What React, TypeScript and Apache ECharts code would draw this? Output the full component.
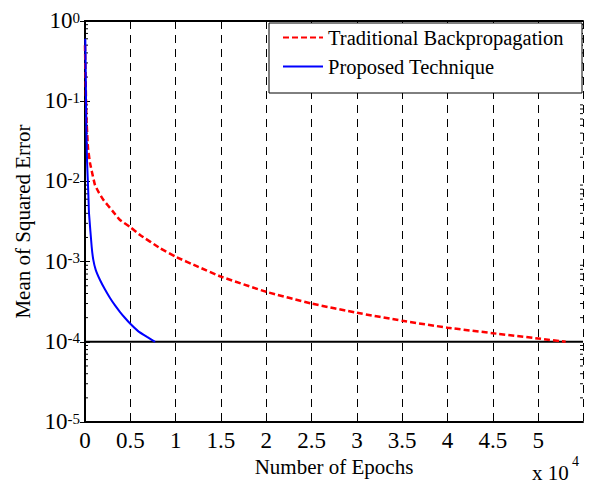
import React, { useEffect, useRef } from 'react';
import * as echarts from 'echarts';

// ---- data ----
const traditionalEpochs = [0, 144, 221, 332, 553, 773, 1105, 1547, 2022, 3094, 3868, 4972, 6078, 8288, 10000, 12500, 15000, 20000, 25000, 30000, 35000, 40000, 45000, 50000, 53040];
const traditionalMSE = [0.5, 0.067, 0.044, 0.026, 0.017, 0.013, 9.0e-3, 7.2e-3, 5.9e-3, 4.2e-3, 3.3e-3, 2.7e-3, 2.15e-3, 1.47e-3, 1.15e-3, 8.6e-4, 6.5e-4, 4.2e-4, 3.0e-4, 2.3e-4, 1.83e-4, 1.5e-4, 1.28e-4, 1.1e-4, 1.0e-4];
const proposedEpochs = [0, 33, 88, 144, 221, 365, 442, 740, 917, 1182, 1657, 2210, 2762, 3315, 3868, 4420, 4972, 5857, 6851, 7735];
const proposedMSE = [0.6, 0.58, 0.184, 0.048, 0.0185, 7.2e-3, 4.0e-3, 1.52e-3, 1.05e-3, 7.9e-4, 5.9e-4, 4.49e-4, 3.52e-4, 2.84e-4, 2.35e-4, 1.98e-4, 1.69e-4, 1.36e-4, 1.15e-4, 1.0e-4];
const goalMSE = 1e-4;
const seriesNames = ['Traditional Backpropagation', 'Proposed Technique'];
const xMin = 0;
const xMax = 54950;
const xInterval = 5000;
const yMin = 1e-5;
const yMax = 1;
const minorMantissas = [2, 3, 4, 5, 6, 7, 8, 9];
const minorDecades = [1e-5, 1e-4, 1e-3, 1e-2, 1e-1];

const FONT = '"Liberation Serif", "Times New Roman", serif';

export default function App() {
  const ref = useRef<HTMLDivElement>(null);
  useEffect(() => {
    if (!ref.current) return;
    const chart = echarts.init(ref.current, null, { renderer: 'svg' });
    const minorTicks: number[][] = [];
    minorDecades.forEach((d) => minorMantissas.forEach((m) => minorTicks.push([0, m * d])));

    const xLabel = (v: number) => (v % xInterval === 0 ? String(v / 10000) : '');
    const yLabel = (v: number) => `{b|10}{s|${Math.round(Math.log10(v))}}`;

    const option: any = {
      animation: false,
      backgroundColor: '#fff',
      grid: { left: 85, right: 9, top: 21, bottom: 64, containLabel: false },
      legend: {
        data: seriesNames,
        orient: 'vertical',
        left: 282,
        top: 27,
        padding: 0,
        itemWidth: 40,
        itemHeight: 14,
        itemGap: 8,
        z: 5,
        itemStyle: { color: 'rgba(0,0,0,0)', borderColor: 'rgba(0,0,0,0)', borderWidth: 0 },
        textStyle: { fontFamily: FONT, fontSize: 20.5, lineHeight: 20, color: '#000' },
      },
      graphic: [
        {
          type: 'rect',
          z: 4,
          shape: { x: 269, y: 23, width: 313, height: 70 },
          style: { fill: '#fff', stroke: '#000', lineWidth: 1 },
        },
        {
          type: 'text',
          x: 532,
          y: 463,
          style: { text: 'x 10', fontFamily: FONT, fontSize: 21, lineHeight: 20, fill: '#000' },
        },
        {
          type: 'text',
          x: 572,
          y: 454,
          style: { text: '4', fontFamily: FONT, fontSize: 14, lineHeight: 14, fill: '#000' },
        },
      ],
      xAxis: [
        {
          type: 'value',
          min: xMin,
          max: xMax,
          interval: xInterval,
          name: 'Number of Epochs',
          nameLocation: 'middle',
          nameGap: 33,
          nameTextStyle: { fontFamily: FONT, fontSize: 21, color: '#000' },
          axisLine: { show: true, lineStyle: { color: '#000', width: 2 } },
          axisTick: { show: true, inside: true, length: 5, lineStyle: { color: '#000' } },
          axisLabel: {
            show: true,
            margin: 7,
            showMaxLabel: false,
            formatter: xLabel,
            fontFamily: FONT,
            fontSize: 23,
            color: '#000',
          },
          splitLine: { show: true, lineStyle: { color: '#000', width: 1, type: [8, 6] } },
        },
        {
          type: 'value',
          position: 'top',
          min: xMin,
          max: xMax,
          interval: xInterval,
          axisLine: { show: true, lineStyle: { color: '#000', width: 2 } },
          axisTick: { show: true, inside: true, length: 5, lineStyle: { color: '#000' } },
          axisLabel: { show: false },
          splitLine: { show: false },
        },
      ],
      yAxis: [
        {
          type: 'log',
          logBase: 10,
          min: yMin,
          max: yMax,
          name: 'Mean of Squared Error',
          nameLocation: 'middle',
          nameGap: 52,
          nameTextStyle: { fontFamily: FONT, fontSize: 21, color: '#000' },
          axisLine: { show: true, lineStyle: { color: '#000', width: 2 } },
          axisTick: { show: true, inside: true, length: 5, lineStyle: { color: '#000' } },
          axisLabel: {
            show: true,
            margin: 5,
            formatter: yLabel,
            rich: {
              b: { fontFamily: FONT, fontSize: 23, lineHeight: 22, color: '#000', verticalAlign: 'bottom' },
              s: { fontFamily: FONT, fontSize: 15, lineHeight: 14, color: '#000', verticalAlign: 'top', padding: [0, 0, 15, 0] },
            },
          },
          splitLine: { show: false },
        },
        {
          type: 'log',
          logBase: 10,
          min: yMin,
          max: yMax,
          position: 'right',
          axisLine: { show: true, lineStyle: { color: '#000', width: 2 } },
          axisTick: { show: true, inside: true, length: 5, lineStyle: { color: '#000' } },
          axisLabel: { show: false },
          splitLine: { show: false },
        },
      ],
      series: [
        {
          name: 'Goal',
          type: 'line',
          xAxisIndex: 0,
          yAxisIndex: 0,
          data: [[xMin, goalMSE], [xMax, goalMSE]],
          showSymbol: false,
          symbol: 'none',
          silent: true,
          lineStyle: { color: '#000', width: 2, type: 'solid' },
          z: 1,
        },
        {
          name: seriesNames[0],
          type: 'line',
          xAxisIndex: 0,
          yAxisIndex: 0,
          data: traditionalEpochs.map((x, i) => [x, traditionalMSE[i]]),
          showSymbol: false,
          symbol: 'none',
          smooth: 0.15,
          lineStyle: { color: '#ff0000', width: 2.5, type: [6, 3] },
          itemStyle: { color: '#ff0000' },
          z: 2,
        },
        {
          name: seriesNames[1],
          type: 'line',
          xAxisIndex: 0,
          yAxisIndex: 0,
          data: proposedEpochs.map((x, i) => [x, proposedMSE[i]]),
          showSymbol: false,
          symbol: 'none',
          smooth: 0.15,
          lineStyle: { color: '#0000ff', width: 2, type: 'solid' },
          itemStyle: { color: '#0000ff' },
          z: 3,
        },
        {
          name: 'minorTicks',
          type: 'custom',
          xAxisIndex: 0,
          yAxisIndex: 0,
          silent: true,
          clip: false,
          encode: { x: 0, y: 1 },
          data: minorTicks,
          renderItem: (params: any, api: any) => {
            const v = api.value(1);
            const l = api.coord([xMin, v]);
            const r = api.coord([xMax, v]);
            return {
              type: 'group',
              children: [
                { type: 'line', shape: { x1: l[0], y1: l[1], x2: l[0] + 3, y2: l[1] }, style: { stroke: '#000', lineWidth: 1 } },
                { type: 'line', shape: { x1: r[0], y1: r[1], x2: r[0] - 3, y2: r[1] }, style: { stroke: '#000', lineWidth: 1 } },
              ],
            };
          },
        },
      ],
    };
    chart.setOption(option);
    return () => chart.dispose();
  }, []);
  return <div ref={ref} style={{ width: 592, height: 486, position: 'absolute', left: 0, top: 0 }} />;
}
